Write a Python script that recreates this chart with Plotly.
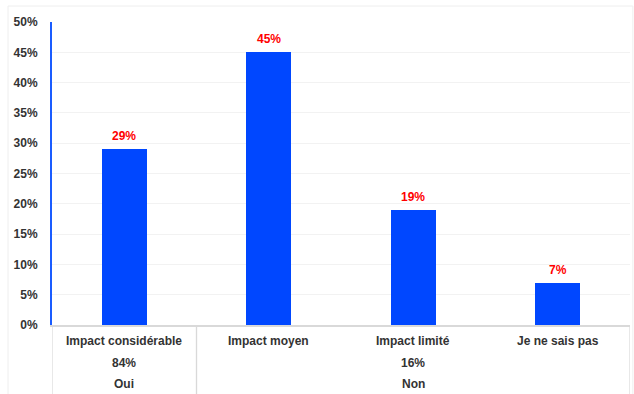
import plotly.graph_objects as go

# Survey answers and their share of respondents (%)
categories = ["Impact considérable", "Impact moyen", "Impact limité", "Je ne sais pas"]
values = [29, 45, 19, 7]
groups = ["Oui", "Non", "Non", "Non"]
group_totals = {"Oui": 84, "Non": 16}
y_ticks = [0, 5, 10, 15, 20, 25, 30, 35, 40, 45, 50]

BAR_BLUE = "#0047ff"
LINE_GRAY = "#d9d9d9"
TEXT_DARK = "#333333"
FONT = "Liberation Sans, Arial, sans-serif"

fig = go.Figure()
fig.add_trace(go.Bar(
    x=list(range(len(categories))),
    y=values,
    width=0.31,
    marker=dict(color=BAR_BLUE, line=dict(width=0)),
    hoverinfo="skip",
))

annotations = []
# Value labels above the bars
for i, v in enumerate(values):
    annotations.append(dict(
        x=i, y=v, xref="x", yref="y", text=f"<b>{v}%</b>",
        showarrow=False, yanchor="bottom", yshift=4,
        font=dict(size=12, color="#ff0000", family=FONT),
    ))

# First row: answer labels under each bar
for i, c in enumerate(categories):
    annotations.append(dict(
        x=i, y=0, xref="x", yref="paper", text=f"<b>{c}</b>",
        showarrow=False, yanchor="middle", yshift=-16,
        font=dict(size=12, color=TEXT_DARK, family=FONT),
    ))

# Second and third rows: group totals and group names, centred on each group
shapes = []
order = []
for g in groups:
    if g not in order:
        order.append(g)
for g in order:
    idx = [i for i, gg in enumerate(groups) if gg == g]
    center = sum(idx) / len(idx)
    annotations.append(dict(
        x=center, y=0, xref="x", yref="paper", text=f"<b>{group_totals[g]}%</b>",
        showarrow=False, yanchor="middle", yshift=-38,
        font=dict(size=12, color=TEXT_DARK, family=FONT),
    ))
    annotations.append(dict(
        x=center, y=0, xref="x", yref="paper", text=f"<b>{g}</b>",
        showarrow=False, yanchor="middle", yshift=-59,
        font=dict(size=12, color=TEXT_DARK, family=FONT),
    ))
    # separator lines at the group edges
    for edge in (min(idx) - 0.5, max(idx) + 0.5):
        shapes.append(dict(
            type="line", xref="x", yref="paper", x0=edge, x1=edge, y0=0, y1=-0.3,
            line=dict(color=LINE_GRAY, width=1.2), layer="below",
        ))

# Light frame around the whole chart
shapes.append(dict(
    type="rect", xref="paper", yref="paper",
    x0=-0.0761, x1=1.005, y0=-0.3, y1=1.0528,
    line=dict(color="#eeeeee", width=1), layer="below",
))

fig.update_layout(
    width=634, height=394,
    margin=dict(l=52, r=4, t=22, b=69),
    paper_bgcolor="white", plot_bgcolor="white",
    showlegend=False,
    bargap=0,
    annotations=annotations,
    shapes=shapes,
    xaxis=dict(
        range=[-0.5, len(categories) - 0.5],
        showticklabels=False, ticks="",
        showgrid=False, zeroline=False,
        showline=True, linecolor=LINE_GRAY, linewidth=1.5,
    ),
    yaxis=dict(
        range=[0, 50],
        tickvals=y_ticks,
        ticktext=[f"<b>{t}%</b>" for t in y_ticks],
        tickfont=dict(size=12, color=TEXT_DARK, family=FONT),
        showgrid=True, gridcolor="#f2f2f2", gridwidth=1,
        zeroline=False,
        showline=True, linecolor="#1a5cff", linewidth=2,
        ticks="", ticklabelstandoff=10,
    ),
)

fig.write_html("out.html")
